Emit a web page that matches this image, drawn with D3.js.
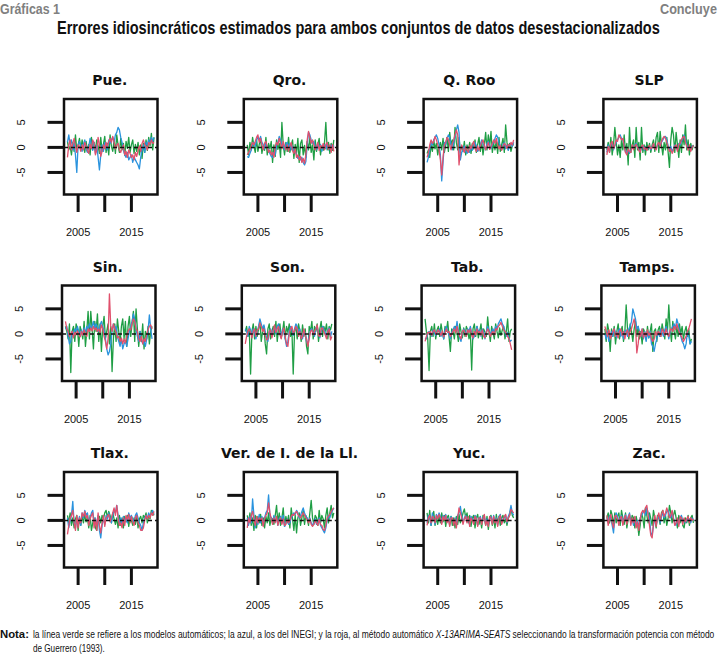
<!DOCTYPE html>
<html><head><meta charset="utf-8">
<script src="https://cdn.jsdelivr.net/npm/d3@7"></script>
<style>body{margin:0;background:#fff}svg{display:block}</style>
</head><body>
<svg id="c" width="719" height="658"></svg>
<script>
const startYear = 2003;
const xTicks = [2005, 2010, 2015];
const xTickLabels = ["2005", "", "2015"];
const yTicks = [5, 0, -5];
const yTickLabels = ["5", "0", "-5"];
const panelNames = ["Pue.", "Qro.", "Q. Roo", "SLP", "Sin.", "Son.", "Tab.", "Tamps.", "Tlax.", "Ver. de I. de la Ll.", "Yuc.", "Zac."];
const seriesNames = ["automático", "INEGI", "X-13ARIMA-SEATS Guerrero"];

const pueGreen = [1.2,-0.5,0.3,-1.5,1.0,-0.8,2.5,-0.6,0.4,1.8, -0.5,1.5,0.2,-1.0,1.2,-0.8,0.6,-1.5,2.0,-0.4, 1.0,-0.6,1.5,0.3,-1.2,2.0,-0.8,0.6,2.2,-1.0, 0.8,-1.5,2.5,0.2,-0.8,1.5,-1.2,2.5,0.4,-1.0, 1.8,-0.5,0.8,-1.6,1.2,-0.2,2.0,-1.0,0.5,1.5, -1.2,0.6,-0.8,1.0,-1.5,0.5,-2.2,0.8,-1.0,1.5, -0.6,2.0,0.3,2.8,-0.5,2.0];
const pueBlue = [1.0,2.5,0.5,1.5,-0.5,0.8,-1.5,-5.0,0.5,1.2, 0.3,-0.8,0.6,1.5,-0.3,-1.0,0.2,1.8,0.5,-0.6, 1.0,-1.2,0.4,-2.0,-4.5,-1.5,0.5,-0.8,1.0,0.2, -0.5,1.5,0.8,1.5,2.0,1.0,2.5,3.0,4.0,3.5, 2.0,1.0,-0.5,-1.5,-2.0,-1.0,-2.5,-2.0,-1.5,-3.0, -2.0,-2.5,-3.0,-3.5,-4.3,-2.0,-0.5,0.5,-1.0,1.0, 0.5,1.5,0.8,2.0,1.2,2.0];
const pueRed = [-2.0,0.5,1.5,-0.5,0.8,1.8,0.2,-1.0,0.5,0.2, -0.8,0.5,-0.5,1.0,0.3,-0.6,-1.2,0.6,-0.3,1.5, 0.8,-1.5,-0.5,2.0,0.5,-1.8,-0.8,0.5,-0.3,1.0, 0.2,1.2,1.8,1.0,2.2,1.0,-0.3,0.5,0.8,-0.5, -1.0,-0.2,0.5,-1.5,-0.8,-2.0,-0.5,-1.2,-2.0,-1.5, -2.5,-1.0,-1.8,-0.6,0.3,-0.8,0.8,1.5,0.5,0.2, -0.5,1.0,0.6,1.5,0.8,1.0];

const qroGreen = [0.5,-1.5,1.0,-0.5,2.0,0.2,-1.0,1.5,-0.8,0.6, 1.8,-1.2,0.3,-0.6,2.0,-1.5,0.8,-0.3,1.2,-3.0, 0.5,-1.8,1.5,-0.4,0.8,-2.0,5.0,0.5,-1.5,1.0, -0.8,2.0,-1.0,0.4,1.5,-2.2,0.6,-1.2,1.8,-3.0, 0.8,1.5,-1.5,0.4,-2.0,1.2,-0.5,2.0,-1.0,0.5, -2.5,1.5,-0.8,0.6,1.8,-1.5,0.3,-0.6,1.0,5.0, -0.5,1.0,-1.2,0.8,-0.6,1.5];
const qroBlue = [-1.8,-2.0,-1.2,-0.5,0.5,1.0,0.2,1.5,2.0,1.5, 2.2,1.0,0.5,-0.3,0.8,0.2,-0.8,-1.2,-1.8,-2.0, -1.0,-1.5,0.5,1.0,2.2,1.5,0.3,0.8,-0.5,0.6, 1.0,0.2,0.8,-0.5,0.3,-1.0,-0.6,-1.5,-2.2,-1.8, -2.5,-2.0,-3.0,-3.5,-2.8,0.5,3.0,2.5,1.5,0.8, 1.2,0.3,-0.5,0.8,-0.2,0.6,-0.8,0.3,0.5,-0.3, 0.8,-0.5,0.2,0.5,-0.3,0.4];
const qroRed = [-1.5,-1.0,-0.5,0.3,1.0,0.5,1.2,2.0,2.5,1.0, 1.8,0.5,-0.5,0.8,1.2,0.0,-1.0,-0.5,-1.5,-1.0, -2.0,0.2,1.0,0.5,1.8,0.8,-0.3,1.2,0.2,-0.5, 0.5,-0.8,0.3,1.0,-0.6,-1.2,-0.3,-2.0,-1.5,-2.5, -1.8,-3.0,-2.2,-3.2,-1.5,1.5,3.2,2.0,0.8,1.5, 0.5,-0.5,0.2,1.0,-0.6,0.4,-0.2,0.8,-0.5,0.6, 1.0,-0.4,0.5,-1.0,0.6,-0.8];

const qrooGreen = [-1.2,-0.5,-2.0,0.5,-0.8,1.5,-0.3,0.8,-1.5,0.2, 1.0,-0.5,1.8,-1.0,0.5,2.0,-0.8,3.0,0.5,1.5, -0.5,4.0,1.0,-0.5,2.0,-1.0,0.3,-0.8,1.2,-1.5, 0.5,-0.6,1.0,-1.2,0.8,-0.3,1.5,-1.0,0.6,2.0, -0.8,1.2,-1.5,0.5,3.0,-0.5,2.5,0.2,3.2,-1.0, 0.8,-0.5,1.5,-1.2,2.0,-0.8,0.5,1.8,-1.0,4.5, 1.0,-0.5,0.8,-0.8,0.3,0.6];
const qrooBlue = [-3.0,-2.0,-0.5,1.0,0.5,1.5,2.0,2.5,1.8,0.5, -1.5,-6.7,-3.0,1.0,0.5,1.8,2.5,2.0,0.5,-0.5, 1.0,2.0,3.5,4.5,3.0,-2.5,-1.0,-0.5,0.3,-0.8, -1.2,-0.5,-1.0,0.2,-0.6,0.5,1.0,0.3,-0.8,-0.5, 0.5,1.5,0.8,0.2,-0.5,0.8,1.2,0.5,-0.3,0.6, 1.0,1.8,2.5,2.0,1.0,0.3,-0.5,0.5,1.0,-0.3, 0.5,-0.6,0.4,0.8,0.2,1.0];
const qrooRed = [-2.0,-1.0,0.5,1.5,0.8,1.2,2.2,1.5,0.5,-0.5, -2.5,-5.5,-2.0,0.5,1.0,2.0,1.5,0.5,-0.5,0.8, 1.5,2.5,3.5,2.5,-3.5,-0.8,0.5,-0.3,-1.0,0.2, -0.5,-1.0,0.4,-0.3,0.6,1.2,-0.2,-0.8,0.3,-0.6, 0.2,1.0,1.5,0.5,-0.5,0.3,1.0,-0.4,0.2,0.8, 1.5,0.8,1.8,0.5,-0.3,0.4,-0.6,0.2,0.8,0.5, -0.2,0.6,0.3,1.0,0.5,1.5];

const slpGreen = [-0.5,1.0,-1.0,2.0,-1.5,0.5,4.0,1.0,-1.5,0.5, -2.0,1.5,-0.5,2.5,-1.0,0.8,-3.5,4.0,-1.0,0.5, 1.5,-2.0,4.0,-0.5,1.0,-2.5,4.0,-1.0,0.5,-1.5, 1.0,-0.5,0.8,-1.0,0.5,1.5,-0.8,2.0,3.0,-1.0, 3.2,0.5,-1.5,1.0,-0.5,2.0,-1.0,-4.0,1.5,4.0, 2.5,-1.0,3.0,0.5,-2.0,1.5,-1.0,2.5,0.5,4.5, -0.5,1.5,-1.5,0.8,-0.5,0.5];
const slpBlue = [-1.0,0.5,-0.8,0.5,1.0,-0.5,0.3,1.0,1.5,2.0, 2.5,1.8,1.5,0.5,-0.8,-1.0,-0.5,-1.2,-0.6,0.2, -0.3,0.5,0.8,0.2,-0.5,-0.8,-0.2,0.4,-0.6,0.2, -0.4,-0.2,0.3,-0.5,0.2,0.6,0.0,-0.3,0.5,0.8, 0.4,1.0,1.5,2.0,2.2,1.5,0.3,-0.5,0.2,-0.8, -0.3,0.5,0.2,-0.5,0.8,0.5,1.2,1.8,2.5,1.5, 0.5,-0.3,0.2,-0.5,0.3,0.2];
const slpRed = [-1.5,0.2,-1.0,0.8,1.2,-0.3,0.5,1.5,1.2,2.5, 2.0,1.5,1.8,0.2,-1.0,-1.5,-0.3,-0.8,-1.0,0.5, -0.5,0.3,0.6,0.0,-0.6,-1.0,0.2,0.5,-0.4,0.0, -0.6,0.1,0.4,-0.3,0.0,0.8,-0.2,-0.5,0.6,1.0, 0.2,1.2,1.8,2.2,1.8,1.0,0.0,-0.8,-0.3,-1.2, -0.6,0.3,0.5,-0.8,0.6,0.8,1.5,2.0,2.2,1.0, 0.2,-0.6,0.5,-0.8,0.0,0.4];

const sinGreen = [1.5,0.5,-1.0,2.0,-7.7,0.5,1.5,-1.5,2.0,1.0, -2.5,1.5,0.5,-1.0,2.5,-2.5,0.5,4.5,-1.0,4.5, 1.0,-3.0,2.5,0.5,4.0,-1.5,2.0,-3.5,1.5,3.5, -1.0,0.5,2.0,-2.0,1.5,-7.5,-1.0,2.0,-1.5,3.0, 0.5,-2.0,1.5,3.0,-1.0,2.5,-2.5,1.5,3.5,-0.5, 2.0,4.5,-1.5,5.0,1.0,-2.5,0.5,-1.5,2.0,-3.0, 0.5,-1.0,1.5,-2.0,0.5,1.5];
const sinBlue = [1.0,1.5,-0.5,-2.0,-1.5,0.5,-0.5,1.0,0.5,1.5, 0.5,-0.5,0.8,-0.3,1.2,0.2,1.5,0.8,2.0,1.0, 1.5,2.5,1.0,2.0,1.2,0.5,1.8,2.5,1.5,0.5, -1.0,-3.0,-4.2,-3.5,-2.0,0.5,2.0,1.0,1.5,-0.5, -1.5,-2.5,-1.0,-3.0,-2.0,-1.5,-2.5,-1.0,0.5,1.5, 2.5,4.0,3.0,1.0,-0.5,-1.5,0.5,-1.0,-2.0,-1.5, -2.5,-1.0,0.5,3.8,1.0,-1.0];
const sinRed = [2.5,1.0,0.5,-0.5,0.0,0.5,-0.8,0.3,-0.2,0.6, 0.0,-0.6,0.5,-0.3,0.8,0.2,-0.5,1.0,0.5,1.2, 0.6,1.5,0.8,1.2,0.5,1.0,0.3,1.8,1.0,-0.5, -1.5,-3.0,-1.0,8.0,1.5,0.5,2.0,1.0,0.3,-0.8, -0.5,-1.5,-0.8,-2.0,-1.0,-1.8,-0.5,0.5,1.0,0.8, 2.0,3.0,2.5,1.0,0.5,-1.0,-1.5,-0.5,-2.0,-1.0, -1.5,0.0,0.8,1.5,1.8,1.0];

const sonGreen = [0.5,1.5,-0.5,1.0,-8.0,0.5,2.0,-1.0,1.5,-0.5, 1.0,2.5,-1.5,0.5,1.5,-2.0,-4.0,1.0,2.0,-1.0, 0.5,1.5,-0.5,2.5,-1.5,1.0,2.0,-0.8,0.5,2.5, -1.0,1.5,0.3,2.0,-0.5,1.0,-8.0,0.5,1.5,-1.0, 2.0,0.5,-1.5,1.8,-0.5,1.0,-2.5,-4.0,1.5,0.5, 2.5,-1.0,1.5,0.5,2.0,-1.5,1.0,2.5,-0.5,1.5, 0.5,2.0,-1.0,1.5,0.8,2.0];
const sonBlue = [1.0,0.5,-0.5,1.5,0.8,-0.3,1.0,0.2,-1.0,0.5, 1.5,3.0,2.0,1.0,1.8,0.5,-0.8,-1.5,0.3,1.0, -0.5,0.8,1.2,0.0,1.5,2.0,0.5,-0.5,1.0,0.3, -1.0,-2.5,-1.5,0.5,1.5,0.8,-0.3,1.0,2.0,1.5, 0.2,1.0,-0.5,-1.0,0.5,0.2,-1.5,-2.0,-0.5,0.8, 1.0,0.3,-0.5,1.2,1.5,0.2,-0.8,0.5,1.5,1.0, 0.3,-0.5,0.8,1.2,-0.6,0.5];
const sonRed = [-2.0,-0.5,0.5,1.0,0.3,-0.8,0.5,1.0,-0.5,0.8, 1.0,2.2,1.5,0.5,1.0,-0.3,-1.2,-1.0,0.5,0.8, -0.8,0.5,1.8,0.3,1.0,1.5,-0.2,-1.0,0.5,1.2, -0.5,-2.0,-2.5,0.0,1.0,1.5,0.2,0.5,1.5,1.0, -0.5,0.5,-1.0,-0.5,1.0,-0.3,-1.0,-2.5,-1.0,0.5, 0.8,-0.2,0.5,1.0,1.8,-0.3,-0.5,1.0,1.2,0.5, -0.2,-1.0,0.5,1.0,-1.2,-0.5];

const tabGreen = [3.0,0.5,-1.0,-7.3,0.5,1.5,-0.5,2.0,-1.0,0.8, 1.5,-0.5,2.0,0.3,-1.0,1.5,0.5,2.5,-0.5,-3.5, 1.0,0.5,-1.0,1.5,0.3,-1.5,2.0,0.5,-0.8,1.2, -0.5,1.5,0.8,-1.0,0.5,-7.2,1.0,2.0,-0.5,1.5, -0.8,0.5,2.0,-1.0,1.0,0.3,-0.5,3.4,0.5,-1.5, 1.5,0.2,-1.0,2.0,0.5,-0.8,1.2,-0.3,0.8,1.5, -1.0,0.5,3.0,-1.5,0.5,1.0];
const tabBlue = [-0.8,-1.0,0.2,0.5,0.3,-0.5,0.8,0.2,-0.3,0.6, 0.5,1.0,-0.5,0.3,-1.0,0.8,1.5,0.5,-0.2,-1.0, 0.3,0.8,1.5,0.5,2.5,0.5,-0.8,-1.5,0.3,1.0, 0.5,-0.3,1.0,0.5,1.5,0.2,-1.0,-0.5,0.3,1.5, 0.5,0.8,-0.5,1.0,0.3,-1.0,0.5,1.5,0.8,-0.2, 0.5,1.0,0.3,1.5,1.0,2.0,2.5,3.0,2.0,1.5, 0.5,-0.5,0.3,-1.0,-1.5,-1.2];
const tabRed = [-1.5,-0.5,0.3,0.2,0.5,-0.3,0.5,0.8,0.0,0.3, 0.8,0.3,-0.3,0.6,-0.6,0.2,1.0,0.3,0.5,-0.5, 0.0,0.5,1.0,0.2,1.5,0.3,-0.5,-1.0,0.5,0.8, 0.2,-0.5,0.8,0.3,1.0,-0.3,-0.8,0.5,-0.2,1.0, 0.3,0.5,-0.3,0.8,-0.5,-0.8,0.3,1.0,0.5,-0.5, 0.2,0.5,-0.2,1.0,0.8,1.5,1.8,2.3,1.5,0.8, 0.5,0.0,-0.5,-1.0,-2.0,-3.2];

const tampsGreen = [1.0,-1.5,2.0,0.5,-3.5,1.0,-0.5,1.5,-2.0,0.5, 2.0,-1.0,0.5,1.5,-1.5,0.3,5.8,1.0,-1.0,2.0, 0.5,-1.5,1.0,2.5,-0.5,1.5,-1.0,0.5,-2.0,1.0, 0.3,-1.2,1.5,-0.8,0.5,2.0,-3.5,0.5,1.0,-1.5, 0.8,1.5,-0.5,2.0,0.5,-1.0,3.0,0.5,5.8,1.0, -1.5,2.5,0.5,-1.0,1.5,-0.5,2.0,0.0,1.5,-1.0, 0.5,1.5,-0.5,1.0,-2.0,-1.0];
const tampsBlue = [0.0,-1.0,0.5,-1.5,-0.8,0.5,-0.5,1.0,0.3,-0.8, 0.5,1.0,-0.5,0.3,-1.0,0.5,0.8,-0.5,1.0,1.5, 2.5,5.0,4.0,3.0,1.0,1.5,0.5,-0.5,1.0,-1.0, 0.5,-1.5,0.3,-0.8,0.5,-2.0,-2.5,-3.5,-2.0,-1.0, 0.5,-0.5,1.0,0.3,-0.5,0.8,1.5,0.5,-1.0,0.5, 1.0,1.5,2.0,1.0,3.0,2.0,0.5,-0.5,-1.5,-2.0, -3.0,-2.0,0.5,-0.5,-2.0,-1.5];
const tampsRed = [1.5,0.5,-0.5,0.8,-1.0,-0.3,0.5,1.0,-0.5,0.3, -0.8,0.5,1.0,-0.3,0.5,-1.0,0.3,0.8,-0.5,0.5, 1.0,2.0,3.0,1.5,-3.8,-2.0,0.5,-0.5,1.0,-0.8, 0.3,-0.5,0.8,-0.3,0.2,-1.0,-1.5,-1.0,0.5,-0.3, 0.5,0.2,-0.5,1.0,0.5,-0.3,1.0,0.0,-0.5,0.8, 1.0,0.5,1.5,0.8,2.0,1.0,0.3,-0.3,-0.8,-1.5, -1.0,-0.5,0.5,1.0,2.0,3.0];

const tlaxGreen = [1.0,-0.5,1.5,-1.0,0.5,-1.5,0.3,1.0,-2.0,0.5, -1.0,0.8,-0.5,1.2,-0.3,0.6,-1.5,1.0,-2.0,-0.5, 0.5,-1.5,-2.0,0.3,0.8,-0.5,1.0,0.3,1.5,2.0, 0.5,1.8,1.0,-0.5,1.5,0.3,-0.8,0.5,-1.5,1.0, -1.0,0.5,-1.5,0.8,-0.3,1.0,-1.2,0.5,0.0,-1.0, 0.5,-0.8,1.0,-1.5,0.3,0.8,-0.5,1.0,0.5,1.5, -0.5,1.0,0.3,2.0,1.5,1.0];
const tlaxBlue = [0.5,-1.5,0.0,1.0,3.8,-0.5,-1.5,0.5,-1.0,0.8, -1.0,1.5,0.5,2.0,1.0,1.5,-0.5,0.5,1.5,2.0, -0.5,0.5,-1.0,1.0,-2.0,-3.5,-1.0,0.5,-0.8,1.0, 0.3,1.5,0.5,-0.5,1.0,2.0,1.5,3.0,1.0,-0.5, 0.5,-1.0,0.8,-0.3,0.5,-0.5,1.5,0.5,1.0,0.3, -0.5,1.0,1.5,0.5,-0.5,-1.0,-2.0,-0.5,0.5,1.0, 0.5,1.5,0.8,1.5,2.0,1.2];
const tlaxRed = [-2.8,-1.0,0.5,1.0,2.0,-0.5,-2.0,1.0,-1.5,0.5, -0.5,1.5,0.8,1.8,0.5,1.0,-1.0,0.3,1.0,1.5, -1.5,0.3,-2.0,1.5,-1.0,-2.5,-0.5,1.0,-1.2,0.5, 0.8,1.2,-0.3,0.5,1.5,2.5,1.0,3.0,0.5,-1.0, -0.5,-1.5,0.5,-1.0,1.0,0.2,1.2,-0.5,0.8,-0.3, -1.0,0.5,1.0,-0.5,-1.0,-2.0,-2.0,-1.5,0.0,1.0, 0.3,1.0,0.5,1.5,1.0,1.8];

const verGreen = [1.0,-0.5,1.5,-1.0,0.5,-2.0,1.0,-1.5,0.8,-0.5, 1.2,-1.0,0.5,-1.5,0.8,-0.5,1.5,-1.0,0.5,0.3, -0.8,1.0,3.0,-0.5,1.5,-1.0,0.5,2.5,-1.2,0.8, -0.5,1.0,-1.5,2.5,0.3,-2.0,1.0,-2.5,0.5,1.5, -1.0,0.5,2.0,-0.8,1.0,0.3,-1.0,1.5,4.0,0.5, -0.8,1.0,0.5,-1.0,2.0,-0.5,1.0,0.3,-1.5,1.0, 2.5,-0.5,1.5,3.0,0.5,1.5];
const verBlue = [0.5,-1.0,0.8,-0.5,4.3,1.0,-1.5,0.5,-0.8,1.2, -0.5,0.8,-1.0,0.5,1.5,2.0,5.1,1.0,0.5,-0.5, 1.0,-0.3,0.5,-1.0,0.3,0.8,-0.5,1.0,-1.2,-0.5, 0.3,-0.8,-0.5,0.5,1.0,1.5,1.2,2.0,1.5,0.5, 1.0,1.8,2.5,1.5,0.8,0.5,-0.3,0.5,-0.5,-1.0, -0.5,0.3,-0.8,-0.5,0.5,-1.0,-1.5,-2.0,-2.5,-1.5, 0.0,1.0,0.5,1.5,2.0,2.5];
const verRed = [-1.5,0.5,-0.5,1.0,1.8,0.3,-1.0,0.8,-0.5,0.5, 0.0,0.5,-1.2,0.3,1.0,1.5,3.5,1.5,0.3,-0.8, 0.5,-0.5,0.8,-1.0,0.0,0.5,-0.8,0.3,-1.0,-0.8, 0.2,-0.5,0.0,0.8,1.2,1.0,1.5,1.8,1.2,0.8, 0.5,1.0,1.5,1.0,0.5,0.2,-0.5,0.3,-0.8,-1.2, -0.8,0.0,-0.5,-1.0,0.2,-0.8,-1.0,-1.8,-2.0,-1.0, 0.5,0.8,1.2,1.8,2.2,2.5];

const yucGreen = [1.5,-0.5,2.0,-1.0,0.5,1.8,-1.0,0.5,-0.8,1.0, -0.5,1.5,-0.3,1.0,-1.2,0.5,1.0,-0.5,0.8,-1.0, 0.5,-1.5,0.8,-0.8,1.2,-0.5,0.3,1.5,2.3,0.5, 1.5,-0.5,1.0,-1.2,0.5,1.0,-1.5,0.5,1.2,-0.8, 0.3,-1.5,1.0,0.5,-1.0,0.8,-1.8,0.5,1.0,-1.0, 0.5,-1.5,1.2,-0.5,0.8,-1.0,0.5,1.0,-0.5,0.3, -1.0,0.5,1.0,2.5,1.0,0.5];
const yucBlue = [-0.5,1.0,0.5,-1.0,1.5,0.3,-0.8,1.2,0.5,1.5, 0.8,-0.5,1.0,0.3,1.2,-0.3,0.5,-1.0,0.8,0.2, -0.5,0.5,-1.0,1.0,1.5,2.8,1.0,-0.5,0.5,1.0, -0.3,0.5,-1.0,0.8,0.3,-0.5,1.0,0.5,-1.0,0.3, 0.8,-0.5,0.5,1.0,-0.8,0.3,-1.0,0.5,0.8,-0.5, 1.0,-0.3,0.5,-1.0,0.8,1.2,-0.5,0.3,0.5,1.0, -0.5,0.8,1.5,3.0,1.5,1.0];
const yucRed = [-1.0,0.5,1.0,-0.5,0.8,0.5,-0.5,1.0,0.3,1.2, 0.5,-0.8,0.8,0.0,1.0,-0.5,0.3,-1.2,0.5,0.5, -1.0,0.3,-1.5,0.5,2.5,1.5,0.5,-0.8,0.3,0.8, -0.5,0.8,-1.2,0.5,0.0,-0.8,0.8,0.3,-1.2,0.5, 0.5,-0.8,0.3,1.2,-1.0,0.0,-1.2,0.8,0.5,-0.8, 0.8,-0.5,0.3,-1.2,0.5,1.0,-0.8,0.0,0.8,1.2, -0.3,0.5,1.0,2.2,1.8,1.5];

const zacGreen = [0.5,1.5,-0.5,2.0,1.0,-1.0,1.5,-0.5,0.8,1.5, -1.0,2.0,0.5,-0.8,1.5,-1.5,0.3,1.0,-0.5,1.0, 0.5,-1.5,0.8,-0.5,-3.0,-1.0,1.5,0.5,-1.5,2.5, 1.0,-0.5,1.5,0.3,-1.0,2.0,0.5,-1.5,1.0,0.5, -0.8,1.5,2.0,-0.5,1.0,-1.0,0.5,3.0,1.5,-0.5, 1.0,2.0,0.5,-1.5,1.0,-0.5,0.8,-1.0,-1.5,0.5, -0.5,1.0,-1.0,0.5,1.0,-0.5];
const zacBlue = [0.5,-0.5,1.0,0.5,-1.0,-2.5,0.5,1.5,0.8,-0.5, 0.3,1.0,-0.8,0.5,1.2,-0.3,0.8,1.5,-0.5,0.3, -1.0,0.5,-1.2,0.0,-1.5,0.5,1.0,1.5,2.0,1.0, 2.5,1.5,0.5,-2.5,-3.0,-1.0,0.5,-0.8,0.3,1.0, -0.5,0.8,1.5,0.5,1.0,1.8,2.0,1.0,0.5,1.5, 0.5,-0.5,-1.0,0.3,-0.8,0.5,1.0,-0.5,0.3,-0.5, 0.0,0.5,0.3,-0.5,0.5,0.0];
const zacRed = [1.0,-1.0,0.5,1.2,-0.5,-1.5,0.8,1.0,0.3,-1.0, 0.5,0.8,-1.0,0.3,1.0,-0.8,0.5,1.2,-1.0,0.5, -0.5,0.8,-1.5,-0.3,-2.0,0.3,1.5,2.0,1.5,2.5, 3.0,1.0,-1.0,-3.0,-3.5,-0.5,1.0,-1.2,0.5,1.5, 0.0,1.2,2.0,0.8,1.5,2.5,1.5,0.5,1.0,2.0, 0.3,-1.0,-0.5,0.5,-1.2,0.8,0.5,-0.8,0.5,-0.3, 0.3,0.8,-0.5,0.5,0.0,0.3];

const panelSeries = [
  [pueGreen, pueBlue, pueRed], [qroGreen, qroBlue, qroRed], [qrooGreen, qrooBlue, qrooRed], [slpGreen, slpBlue, slpRed],
  [sinGreen, sinBlue, sinRed], [sonGreen, sonBlue, sonRed], [tabGreen, tabBlue, tabRed], [tampsGreen, tampsBlue, tampsRed],
  [tlaxGreen, tlaxBlue, tlaxRed], [verGreen, verBlue, verRed], [yucGreen, yucBlue, yucRed], [zacGreen, zacBlue, zacRed]
];
const seriesColors = ["#1f9e45", "#2a93de", "#e0506c"];

const svg = d3.select("#c");
const NARROW = "'Liberation Sans', Arial, sans-serif";

// Places a text (built by fill) and squeezes it horizontally to the given width
function fitText(x, y, targetW, anchor, fill) {
  const g = svg.append("g");
  const t = g.append("text").attr("x", 0).attr("y", 0);
  fill(t);
  const w = t.node().getComputedTextLength();
  const s = targetW / w;
  const tx = anchor === "end" ? x - targetW : x;
  g.attr("transform", `translate(${tx},${y}) scale(${s},1)`);
  return g;
}

fitText(0, 14, 60, "start", t => t.attr("font-family", NARROW).attr("font-weight", 700).attr("font-size", 14).attr("fill", "#808080").text("Gráficas 1"));
fitText(717, 14, 57, "end", t => t.attr("font-family", NARROW).attr("font-weight", 700).attr("font-size", 14).attr("fill", "#808080").text("Concluye"));
fitText(57, 34, 603, "start", t => t.attr("font-family", NARROW).attr("font-weight", 700).attr("font-size", 18).attr("fill", "#111")
  .text("Errores idiosincráticos estimados para ambos conjuntos de datos desestacionalizados"));

const W = 93.5, H = 95.5;
const line = d3.line();

panelSeries.forEach((series, p) => {
  const col = p % 4, row = Math.floor(p / 4);
  const left = 64 + col * 179.8 + (row === 1 ? -2 : 0);
  const top = 99 + row * 186.5;
  const n = series[0].length;
  const dates = d3.range(n).map(i => startYear + i / 4);
  const x0 = dates[0], x1 = dates[n - 1], pad = (x1 - x0) * 0.04;
  const x = d3.scaleLinear().domain([x0 - pad, x1 + pad]).range([left, left + W]);
  const y = d3.scaleLinear().domain([-9.4, 9.66]).range([top + H, top]);
  const g = svg.append("g");

  g.append("text").attr("x", left + W / 2 - 1).attr("y", top - 14).attr("text-anchor", "middle")
    .attr("font-family", "'DejaVu Sans', sans-serif").attr("font-weight", 700).attr("font-size", 14).attr("fill", "#111")
    .text(panelNames[p]);

  const clipId = "clip" + p;
  g.append("clipPath").attr("id", clipId).append("rect").attr("x", left).attr("y", top).attr("width", W).attr("height", H);
  const inner = g.append("g").attr("clip-path", `url(#${clipId})`);

  series.forEach((vals, s) => {
    inner.append("path").attr("d", line.x((d, i) => x(dates[i])).y(d => y(d))(vals))
      .attr("fill", "none").attr("stroke", seriesColors[s]).attr("stroke-width", 1.3).attr("stroke-linejoin", "round");
  });
  inner.append("line").attr("x1", left).attr("x2", left + W).attr("y1", y(0)).attr("y2", y(0))
    .attr("stroke", "#111").attr("stroke-width", 1.5).attr("stroke-dasharray", "4,3");

  g.append("rect").attr("x", left).attr("y", top).attr("width", W).attr("height", H)
    .attr("fill", "none").attr("stroke", "#111").attr("stroke-width", 2.5);

  xTicks.forEach((t, k) => {
    g.append("line").attr("x1", x(t)).attr("x2", x(t)).attr("y1", top + H).attr("y2", top + H + 17.5)
      .attr("stroke", "#111").attr("stroke-width", 3);
    if (xTickLabels[k]) {
      g.append("text").attr("x", x(t)).attr("y", top + H + 41.5).attr("text-anchor", "middle")
        .attr("font-family", "'Liberation Sans', Arial, sans-serif").attr("font-size", 11).attr("fill", "#111")
        .text(xTickLabels[k]);
    }
  });
  yTicks.forEach((t, k) => {
    g.append("line").attr("x1", left - 16.5).attr("x2", left).attr("y1", y(t)).attr("y2", y(t))
      .attr("stroke", "#111").attr("stroke-width", 3);
    const lx = left - 42.5, ly = y(t);
    g.append("text").attr("transform", `translate(${lx},${ly}) rotate(-90)`).attr("text-anchor", "middle")
      .attr("dy", "0.35em").attr("font-family", "'Liberation Sans', Arial, sans-serif").attr("font-size", 11).attr("fill", "#111")
      .text(yTickLabels[k]);
  });
});

// note
fitText(0, 638, 29, "start", t => t.attr("font-family", NARROW).attr("font-weight", 700).attr("font-size", 11).attr("fill", "#111").text("Nota:"));
fitText(33, 638, 682, "start", t => {
  t.attr("font-family", NARROW).attr("font-size", 11).attr("fill", "#111");
  t.append("tspan").text("la línea verde se refiere a los modelos automáticos; la azul, a los del INEGI; y la roja, al método automático ");
  t.append("tspan").attr("font-style", "italic").text("X-13ARIMA-SEATS");
  t.append("tspan").text(" seleccionando la transformación potencia con método");
});
fitText(33, 652, 72, "start", t => t.attr("font-family", NARROW).attr("font-size", 11).attr("fill", "#111").text("de Guerrero (1993)."));
</script>
</body></html>
